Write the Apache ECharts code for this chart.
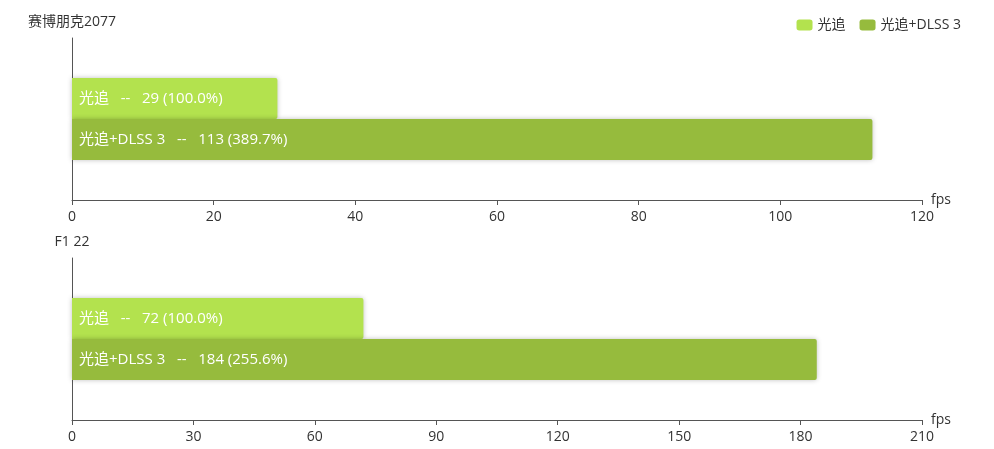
<!DOCTYPE html>
<html><head><meta charset="utf-8">
<script src="https://cdn.jsdelivr.net/npm/echarts@6/dist/echarts.min.js"></script>
<style>html,body{margin:0;padding:0;background:#fff}#c{width:994px;height:449px}</style>
</head><body><div id="c"></div>
<script>
const games = ['赛博朋克2077', 'F1 22'];
const seriesNames = ['光追', '光追+DLSS 3'];
const rtValues = [29, 72];
const dlssValues = [113, 184];
const axisMax = [120, 210];
const axisInterval = [20, 30];
const colors = ['#b3e24e', '#96bb3d'];

const FONT = '"Open Sans", "Noto Sans CJK SC", sans-serif';
const chart = echarts.init(document.getElementById('c'));
const grids = [
  {left: 72, right: 72, top: 38, bottom: 249},
  {left: 72, right: 72, top: 258, bottom: 29}
];
const xAxes = [], yAxes = [], series = [];
games.forEach((g, i) => {
  xAxes.push({
    type: 'value', gridIndex: i, min: 0, max: axisMax[i], interval: axisInterval[i],
    name: 'fps', nameGap: 9,
    nameTextStyle: {color: '#333', fontSize: 14, fontFamily: FONT},
    axisLine: {show: true, lineStyle: {color: '#555'}},
    axisTick: {show: true, lineStyle: {color: '#555'}},
    splitLine: {show: false},
    axisLabel: {color: '#333', fontSize: 14, fontFamily: FONT, margin: 10}
  });
  yAxes.push({
    type: 'category', gridIndex: i, data: [g], name: g, nameGap: 9,
    nameTextStyle: {color: '#333', fontSize: 14, fontFamily: FONT},
    axisLine: {show: true, lineStyle: {color: '#555'}},
    axisTick: {show: false}, axisLabel: {show: false}
  });
  const base = rtValues[i];
  [rtValues[i], dlssValues[i]].forEach((v, k) => {
    series.push({
      type: 'bar', name: seriesNames[k], xAxisIndex: i, yAxisIndex: i,
      data: [v], barWidth: 41, barGap: '0%',
      itemStyle: {color: colors[k], borderRadius: [0, 2, 2, 0], shadowBlur: 5, shadowColor: 'rgba(0,0,0,0.25)'},
      label: {
        show: true, position: 'insideLeft', distance: 7, color: '#fff', fontSize: 15, fontFamily: FONT,
        formatter: p => seriesNames[k] + '   --   ' + v + ' (' + (v / base * 100).toFixed(1) + '%)'
      }
    });
  });
});
chart.setOption({
  animation: false,
  legend: {
    data: seriesNames, right: 28, top: 13, itemWidth: 16, itemHeight: 11, itemGap: 14,
    textStyle: {color: '#333', fontSize: 14, fontFamily: FONT},
    itemStyle: {borderRadius: 2}
  },
  grid: grids, xAxis: xAxes, yAxis: yAxes, series: series
});
</script></body></html>
